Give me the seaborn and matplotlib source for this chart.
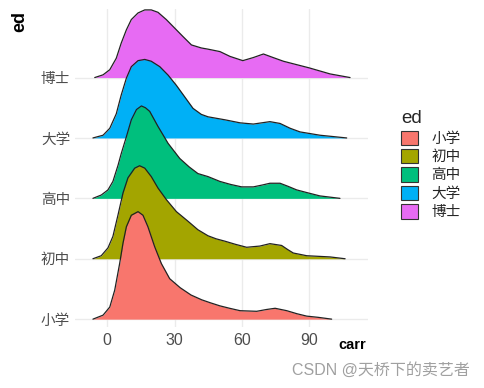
import numpy as np
import pandas as pd
import seaborn as sns
import matplotlib.pyplot as plt
from matplotlib.patches import Patch

# categories, bottom -> top
levels = ['小学', '初中', '高中', '大学', '博士']
colors = ['#F8766D', '#A3A500', '#00BF7D', '#00B0F6', '#E76BF3']

# density outlines (height in units of ridge spacing)
x_xiaoxue = [-6.4, -1.9, 1.1, 3.3, 5.5, 7.0, 8.5, 10.7, 13.7, 15.9, 18.1, 21.1, 24.1, 27.8,
             32.5, 37.3, 42.1, 46, 50.2, 54.5, 59.2, 66.6, 71, 74.8, 80, 84.5, 88.9, 94, 100]
h_xiaoxue = [0, 0.066, 0.20, 0.48, 0.92, 1.26, 1.53, 1.72, 1.78, 1.72, 1.53, 1.20, 0.92, 0.67,
             0.52, 0.40, 0.32, 0.27, 0.22, 0.18, 0.14, 0.13, 0.16, 0.18, 0.14, 0.09, 0.05, 0.03, 0]

x_chuzhong = [-6.4, -2.7, 0.3, 2.5, 4.8, 7.0, 9.2, 12.2, 14.4, 16.7, 19.6, 22.6, 26.3, 30.8, 36,
              40.4, 44.9, 48.5, 52.5, 57, 62.1, 68, 72.5, 77.7, 80.5, 82.9, 88.9, 99.3, 106]
h_chuzhong = [0, 0.05, 0.18, 0.37, 0.73, 1.09, 1.34, 1.50, 1.54, 1.50, 1.36, 1.17, 0.98, 0.78, 0.62,
              0.48, 0.38, 0.33, 0.29, 0.24, 0.19, 0.21, 0.25, 0.22, 0.15, 0.095, 0.05, 0.03, 0]

x_gaozhong = [-6.4, -2.7, 0.3, 2.5, 4.8, 6.2, 8.5, 10.7, 13, 15.2, 17, 18.9, 22.6, 27.1, 32.3,
              36.5, 40.4, 44.9, 50.2, 55, 59.9, 65.1, 69, 72.5, 77, 80.5, 84.4, 89.5, 94.8, 103.7]
h_gaozhong = [0, 0.055, 0.14, 0.28, 0.55, 0.74, 1.02, 1.30, 1.47, 1.53, 1.50, 1.44, 1.19, 0.91, 0.66,
              0.52, 0.41, 0.36, 0.28, 0.23, 0.19, 0.19, 0.22, 0.25, 0.25, 0.20, 0.14, 0.09, 0.04, 0]

x_daxue = [-6.4, -1.9, 1.1, 4.0, 6.2, 8.5, 10.7, 13.7, 16.7, 19.6, 23.4, 27.1, 30.8, 34.5, 38.2,
           41.9, 44.9, 52.5, 59.2, 65.1, 72.5, 77, 81.5, 85.9, 94.8, 106.7]
h_daxue = [0, 0.045, 0.16, 0.40, 0.71, 0.99, 1.18, 1.28, 1.30, 1.27, 1.18, 1.04, 0.87, 0.68, 0.49,
           0.39, 0.35, 0.30, 0.25, 0.23, 0.27, 0.24, 0.16, 0.10, 0.045, 0]

x_boshi = [-5.6, -1.9, 1.1, 4.0, 6.2, 8.5, 10.7, 13.7, 16.7, 19.6, 22.6, 26.3, 30, 33.7, 37.5,
           41.9, 44.9, 50.2, 54.7, 60.4, 65, 69.6, 74, 78.5, 90, 99.3, 108.2]
h_boshi = [0, 0.045, 0.13, 0.32, 0.57, 0.79, 0.96, 1.07, 1.12, 1.12, 1.08, 0.96, 0.82, 0.68, 0.54,
           0.49, 0.47, 0.43, 0.35, 0.28, 0.33, 0.39, 0.33, 0.27, 0.16, 0.06, 0]

xticks = [0, 30, 60, 90]

curves = [(x_xiaoxue, h_xiaoxue), (x_chuzhong, h_chuzhong), (x_gaozhong, h_gaozhong),
          (x_daxue, h_daxue), (x_boshi, h_boshi)]

sns.set_theme(style='whitegrid')
plt.rcParams['font.family'] = ['Liberation Sans', 'Noto Sans CJK SC', 'DejaVu Sans']

fig = plt.figure(figsize=(4.85, 3.88), dpi=100)
ax = fig.add_axes([75/485, 1 - 327/388, (368 - 75)/485, (327 - 9.3)/388])

# draw top ridge first so lower ones sit on top
for i in reversed(range(len(levels))):
    xs, hs = curves[i]
    df = pd.DataFrame({'x': xs, 'y': np.array(hs) + i})
    ax.fill_between(df['x'], i, df['y'], color=colors[i], lw=0, zorder=2 + 2*(4 - i))
    sns.lineplot(data=df, x='x', y='y', color='#222222', lw=0.9, sort=False,
                 ax=ax, zorder=3 + 2*(4 - i))

ax.set_xlim(-14.4, 116.2)
ax.set_ylim(-0.13, 5.13)
ax.set_xticks(xticks)
ax.set_yticks(range(len(levels)))
ax.set_yticklabels(levels)
ax.tick_params(axis='x', labelsize=11.5, colors='#4D4D4D', length=0, pad=4)
ax.tick_params(axis='y', labelsize=10.5, colors='#4D4D4D', length=0, pad=3.5)
ax.grid(True, color='#EBEBEB', lw=1)
for s in ax.spines.values():
    s.set_visible(False)
ax.set_xlabel('')
ax.set_ylabel('')

fig.text(20/485, 1 - 22/388, 'ed', rotation=90, fontsize=13, fontweight='bold',
         ha='center', va='center', color='black')
fig.text(366/485, 1 - 345/388, 'carr', fontsize=10.5, fontweight='bold',
         ha='right', va='center', color='black')

handles = [Patch(facecolor=c, edgecolor='#333333', lw=0.8) for c in colors]
fig.legend(handles, levels, title='ed', loc='upper left',
           bbox_to_anchor=(394/485, 1 - 103/388), frameon=False,
           fontsize=10.5, title_fontsize=13.5, alignment='left',
           handlelength=1.15, handleheight=1.15, labelspacing=0.22,
           handletextpad=0.9, borderpad=0)

fig.text(470/485, 1 - 370/388, 'CSDN @天桥下的卖艺者', fontsize=11.5,
         color='#A0A0A0', ha='right', va='center')

fig.savefig('out.png', dpi=100)
